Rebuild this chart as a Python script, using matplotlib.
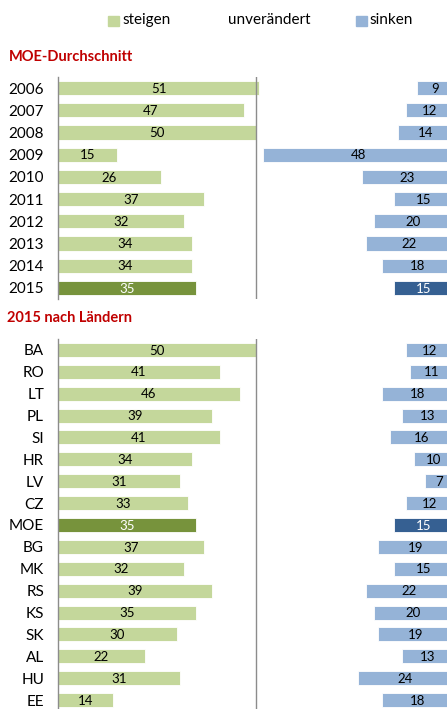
import matplotlib
matplotlib.use("Agg")
import matplotlib.pyplot as plt
from matplotlib.patches import Rectangle

plt.rcParams["font.family"] = ["Lato", "DejaVu Sans"]

# Erwartungen: Anteil "steigen" / "sinken" in Prozent, Rest = unverändert
YEARS = ["2006", "2007", "2008", "2009", "2010", "2011", "2012", "2013", "2014", "2015"]
UP_YEARS = [51, 47, 50, 15, 26, 37, 32, 34, 34, 35]
DOWN_YEARS = [9, 12, 14, 48, 23, 15, 20, 22, 18, 15]

COUNTRIES = ["BA", "RO", "LT", "PL", "SI", "HR", "LV", "CZ", "MOE",
             "BG", "MK", "RS", "KS", "SK", "AL", "HU", "EE"]
UP_COUNTRIES = [50, 41, 46, 39, 41, 34, 31, 33, 35, 37, 32, 39, 35, 30, 22, 31, 14]
DOWN_COUNTRIES = [12, 11, 18, 13, 16, 10, 7, 12, 15, 19, 15, 22, 20, 19, 13, 24, 18]

GREEN = "#c4d79b"
GREEN_DARK = "#77933c"
BLUE = "#95b3d7"
BLUE_DARK = "#366092"
RED = "#c00000"
LINE = "#8c8c8c"

W, H = 447, 709


def px_axes(fig, left, top, right, bottom):
    return fig.add_axes([left / W, 1 - bottom / H, (right - left) / W, (bottom - top) / H])


def draw_panel(ax, labels, up, down, highlight):
    n = len(labels)
    ys = list(range(n))
    unchanged = [100 - u - d for u, d in zip(up, down)]
    up_cols = [GREEN_DARK if lab == highlight else GREEN for lab in labels]
    down_cols = [BLUE_DARK if lab == highlight else BLUE for lab in labels]
    txt_cols = ["white" if lab == highlight else "black" for lab in labels]

    ax.barh(ys, up, height=0.64, color=up_cols, edgecolor="white", linewidth=0.6)
    lefts = [u + m for u, m in zip(up, unchanged)]
    ax.barh(ys, down, left=lefts, height=0.64, color=down_cols, edgecolor="white", linewidth=0.6)

    for y, u, l, d, c in zip(ys, up, lefts, down, txt_cols):
        ax.text(u / 2, y + 0.03, str(u), ha="center", va="center", fontsize=9.5, color=c)
        ax.text(l + d / 2, y + 0.03, str(d), ha="center", va="center", fontsize=9.5, color=c)

    ax.axvline(50, color=LINE, linewidth=1.0)
    ax.set_xlim(0, 100)
    ax.set_ylim(n - 0.5, -0.5)
    ax.set_yticks(ys)
    ax.set_yticklabels(labels, fontsize=11)
    ax.set_xticks([])
    ax.tick_params(axis="y", length=0, pad=10)
    for side in ["top", "right", "bottom"]:
        ax.spines[side].set_visible(False)
    ax.spines["left"].set_color(LINE)
    ax.spines["left"].set_linewidth(1.0)


def main() -> None:
    fig = plt.figure(figsize=(W / 100, H / 100), dpi=100)

    # legend row
    fig.patches.append(Rectangle((108 / W, 1 - 26 / H), 11 / W, 10 / H,
                                 transform=fig.transFigure, color=GREEN))
    fig.text(122 / W, 1 - 20 / H, "steigen", fontsize=11, va="center")
    fig.text(228 / W, 1 - 20 / H, "unverändert", fontsize=11, va="center")
    fig.patches.append(Rectangle((356 / W, 1 - 26 / H), 11 / W, 10 / H,
                                 transform=fig.transFigure, color=BLUE))
    fig.text(369 / W, 1 - 20 / H, "sinken", fontsize=11, va="center")

    fig.text(9 / W, 1 - 57 / H, "MOE-Durchschnitt", fontsize=10.5, fontweight="bold",
             color=RED, va="center")
    fig.text(7 / W, 1 - 318 / H, "2015 nach Ländern", fontsize=10.5, fontweight="bold",
             color=RED, va="center")

    ax1 = px_axes(fig, 58, 77, 453, 299)
    draw_panel(ax1, YEARS, UP_YEARS, DOWN_YEARS, "2015")

    ax2 = px_axes(fig, 58, 339, 453, 711)
    draw_panel(ax2, COUNTRIES, UP_COUNTRIES, DOWN_COUNTRIES, "MOE")

    fig.savefig("out.png", dpi=100)
    plt.close(fig)


if __name__ == "__main__":
    main()
